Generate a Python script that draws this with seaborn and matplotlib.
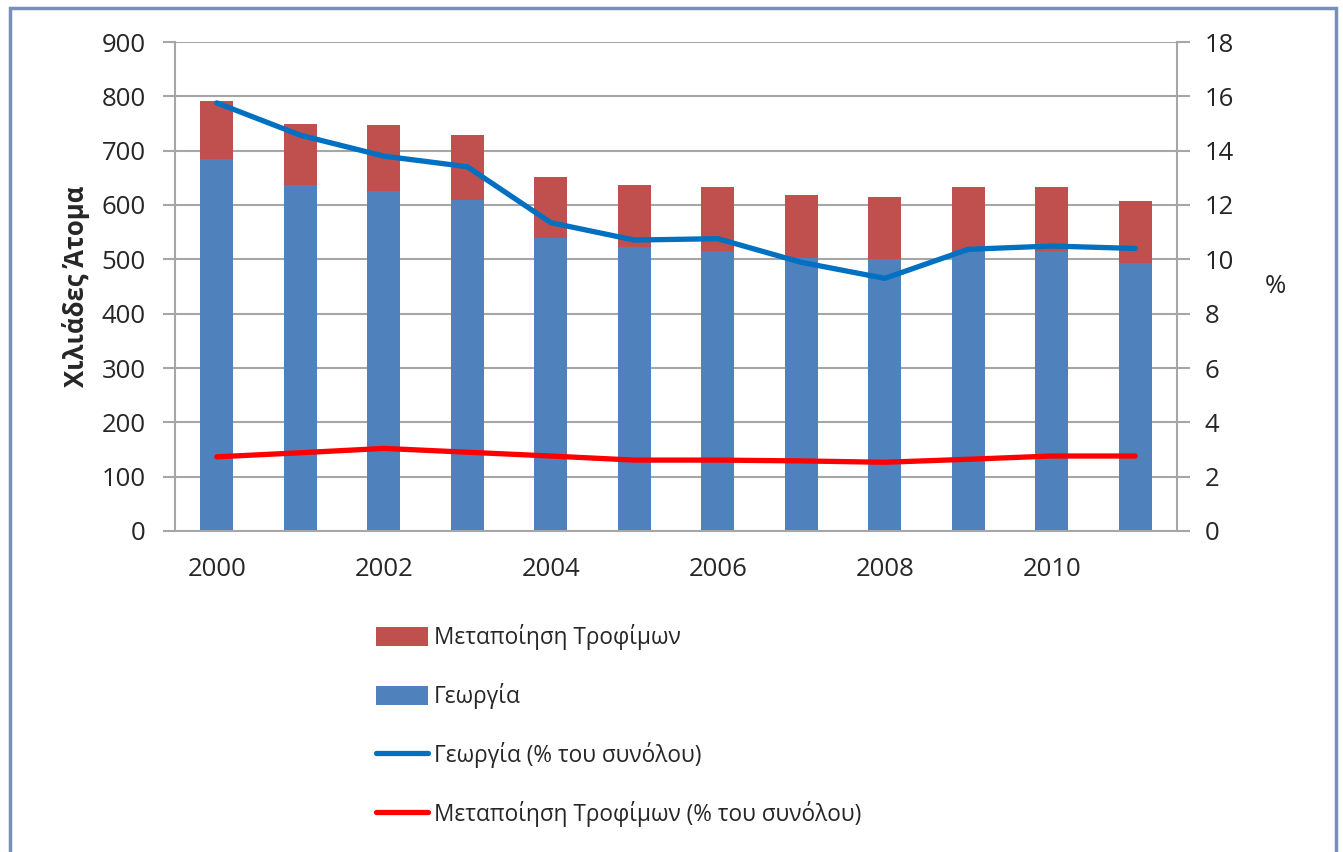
import numpy as np
import pandas as pd
import matplotlib
matplotlib.use("Agg")
import matplotlib.pyplot as plt
from matplotlib.patches import Rectangle
import seaborn as sns

# --- data ---
years = [2000, 2001, 2002, 2003, 2004, 2005, 2006, 2007, 2008, 2009, 2010, 2011]
georgia = [684, 636, 625, 610, 540, 522, 515, 503, 500, 516, 516, 493]          # χιλ. άτομα
food_total = [791, 750, 747, 728, 651, 636, 633, 618, 614, 633, 633, 607]       # γεωργία + μεταποίηση
georgia_pct = [15.76, 14.57, 13.80, 13.41, 11.35, 10.71, 10.76, 9.89, 9.30, 10.37, 10.49, 10.40]
food_pct = [2.73, 2.88, 3.04, 2.90, 2.76, 2.61, 2.61, 2.58, 2.53, 2.64, 2.76, 2.76]

df = pd.DataFrame({"year": years, "georgia": georgia, "total": food_total,
                   "georgia_pct": georgia_pct, "food_pct": food_pct})

sns.set_style("white")
plt.rcParams['font.family'] = ['Open Sans', 'DejaVu Sans']
FS = 18.5
LFS = 16.3
GRAY = "#a6a6a6"

fig = plt.figure(figsize=(13.43, 8.52), dpi=100)
ax = fig.add_axes([175 / 1343, 1 - 531 / 852, 1002 / 1343, 489 / 852])

# stacked bars: total (red) first, then Γεωργία (blue) over it
sns.barplot(data=df, x="year", y="total", native_scale=True, width=0.4,
            color="#C0504D", saturation=1, linewidth=0, label="Μεταποίηση Τροφίμων", ax=ax)
sns.barplot(data=df, x="year", y="georgia", native_scale=True, width=0.4,
            color="#4F81BD", saturation=1, linewidth=0, label="Γεωργία", ax=ax)
if ax.get_legend() is not None:
    ax.get_legend().remove()

ax.set_ylim(0, 900)
ax.set_yticks(range(0, 901, 100))
ax.set_xlim(1999.5, 2011.5)
ax.set_xticks(years[::2])
ax.set_xticks(np.arange(1999.5, 2012, 1), minor=True)
ax.tick_params(axis="x", which="major", length=0, labelsize=FS, pad=19)
ax.tick_params(axis="x", which="minor", length=8, width=1.5, color=GRAY, direction="out")
ax.tick_params(axis="y", length=9, width=1.5, color=GRAY, direction="out", labelsize=FS, pad=12)
ax.yaxis.grid(True, color=GRAY, linewidth=1.5)
ax.set_axisbelow(True)
ax.set_xlabel("")
ax.set_ylabel("Χιλιάδες Άτομα", fontsize=FS, fontweight="bold", labelpad=8)
for side in ["left", "bottom", "right"]:
    ax.spines[side].set_color(GRAY)
    ax.spines[side].set_linewidth(1.5)
ax.spines["top"].set_visible(False)

# lines on the secondary axis
ax2 = ax.twinx()
sns.lineplot(data=df, x="year", y="georgia_pct", color="#0070C0", linewidth=3.8,
             label="Γεωργία (% του συνόλου)", ax=ax2)
sns.lineplot(data=df, x="year", y="food_pct", color="#FF0000", linewidth=3.8,
             label="Μεταποίηση Τροφίμων (% του συνόλου)", ax=ax2)
ax2.set_ylim(0, 18)
ax2.set_yticks(range(0, 19, 2))
ax2.tick_params(axis="y", length=9, width=1.5, color=GRAY, direction="out", labelsize=FS, pad=11)
ax2.set_ylabel("%", rotation=0, fontsize=FS, labelpad=30, va="center")
ax2.get_legend().remove()
for side in ["left", "bottom", "right", "top"]:
    ax2.spines[side].set_visible(False)

h1, l1 = ax.get_legend_handles_labels()
h2, l2 = ax2.get_legend_handles_labels()
fig.legend(h1 + h2, l1 + l2, loc="upper left", bbox_to_anchor=(356 / 1343, 1 - 604 / 852),
           frameon=False, fontsize=LFS, handlelength=2.3, handleheight=0.9,
           handletextpad=0.25, labelspacing=1.45)

# outer chart border
fig.patches.append(Rectangle((10 / 1343, -0.01), 1326 / 1343, 1 - 8 / 852 + 0.01,
                             transform=fig.transFigure, fill=False,
                             edgecolor="#7690b8", linewidth=2.5))

fig.savefig("out.png", dpi=100, facecolor="white")
